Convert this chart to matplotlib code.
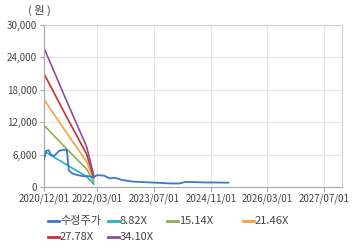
import matplotlib
matplotlib.use('Agg')
import matplotlib.pyplot as plt
import matplotlib.dates as mdates
from matplotlib.lines import Line2D
import pandas as pd

plt.rcParams['font.family'] = ['Noto Sans CJK KR', 'DejaVu Sans']

# 수정주가 (adjusted price)
price_dates = ['2020-12-01', '2020-12-20', '2021-01-10', '2021-02-01', '2021-03-01',
               '2021-04-10', '2021-05-20', '2021-06-15', '2021-07-01', '2021-08-01',
               '2021-09-15', '2021-11-01', '2021-12-15', '2022-02-01', '2022-03-01',
               '2022-05-01', '2022-06-15', '2022-08-01', '2022-10-01', '2023-01-01',
               '2023-06-01', '2023-12-01', '2024-02-01', '2024-04-01', '2024-09-01',
               '2025-04-01']
price_vals = [5200, 6700, 6800, 5900, 5800, 6700, 6900, 6900, 3100, 2500,
              2200, 2000, 2000, 1800, 2200, 2100, 1600, 1700, 1300, 1000,
              850, 650, 650, 950, 850, 800]

# EPS used for PER band lines
band_dates = ['2020-12-01', '2021-06-01', '2021-12-01', '2022-02-01']
eps_vals = [755, 485, 220, 62]
multiples = [8.82, 15.14, 21.46, 27.78, 34.10]
band_labels = ['8.82X', '15.14X', '21.46X', '27.78X', '34.10X']
band_colors = ['#1fb3cc', '#8db04e', '#f4a43c', '#c8302c', '#8c4d9e']
price_color = '#3b78c8'

x_ticks = ['2020-12-01', '2022-03-01', '2023-07-01', '2024-11-01', '2026-03-01', '2027-07-01']
y_ticks = [0, 6000, 12000, 18000, 24000, 30000]

fig = plt.figure(figsize=(3.6, 2.48), dpi=100)
ax = fig.add_axes([44 / 360, 1 - 187 / 248, (342 - 44) / 360, (187 - 25) / 248])

pd_price = pd.to_datetime(price_dates)
pd_band = pd.to_datetime(band_dates)

ax.plot(pd_price, price_vals, color=price_color, lw=1.3, zorder=3)
for m, c in zip(multiples, band_colors):
    ax.plot(pd_band, [m * e for e in eps_vals], color=c, lw=1.2, zorder=2)

ax.set_xlim(pd.Timestamp('2020-12-01'), pd.Timestamp('2027-12-01'))
ax.set_ylim(0, 30000)
ax.set_yticks(y_ticks)
ax.set_yticklabels([f'{v:,}' for v in y_ticks])
ax.set_xticks(pd.to_datetime(x_ticks))
ax.xaxis.set_major_formatter(mdates.DateFormatter('%Y/%m/%d'))

ax.grid(True, color='#e6e6e6', lw=0.8)
ax.set_axisbelow(True)
for s in ['top', 'right']:
    ax.spines[s].set_color('#d0d0d0')
for s in ['left', 'bottom']:
    ax.spines[s].set_color('#a8a8a8')
ax.tick_params(axis='both', labelsize=7, colors='#a8a8a8', labelcolor='#444444', length=3, width=0.8, pad=2)

fig.text(28 / 360, 1 - 10 / 248, '( 원 )', fontsize=8, color='#444444', va='center')

# legend entries
legend_items = [('수정주가', price_color, 48, 221),
                (band_labels[0], band_colors[0], 108, 221),
                (band_labels[1], band_colors[1], 167, 221),
                (band_labels[2], band_colors[2], 243, 221),
                (band_labels[3], band_colors[3], 48, 237),
                (band_labels[4], band_colors[4], 108, 237)]
for lab, c, x, y in legend_items:
    fig.add_artist(Line2D([x / 360, (x + 11) / 360], [1 - y / 248, 1 - y / 248],
                          color=c, lw=2))
    fig.text((x + 12) / 360, 1 - y / 248, lab, fontsize=8, color='#444444', va='center')

fig.savefig('out.png', dpi=100)
